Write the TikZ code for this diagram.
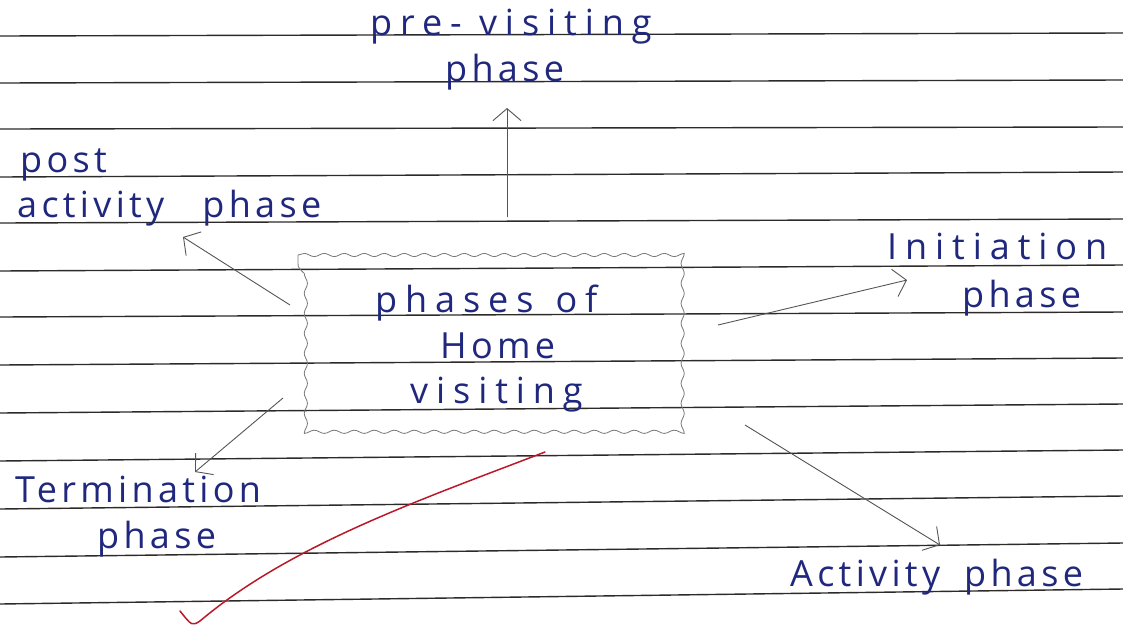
\documentclass[tikz,border=0pt]{standalone}
\usepackage{fontspec}
\usetikzlibrary{arrows.meta,decorations.pathmorphing}
\newfontfamily\handfont[LetterSpace=12]{Open Sans}
\newfontfamily\handwide[LetterSpace=22]{Open Sans}
\definecolor{ink}{RGB}{32,40,125}
\definecolor{rule}{RGB}{45,42,42}
\definecolor{pencil}{RGB}{85,85,85}
\definecolor{redink}{RGB}{185,25,40}
\tikzset{
  label/.style={anchor=base west, inner sep=0pt, text=ink,
    font=\handfont\fontsize{36}{40}\selectfont},
  widelabel/.style={label, font=\handwide\fontsize{36}{40}\selectfont},
  ruled/.style={draw=rule, line width=1.4pt},
  pencilarrow/.style={draw=pencil, line width=0.9pt,
    -{Straight Barb[length=12pt,width=28pt,line width=0.9pt]}},
  wavybox/.style={draw=pencil!80, line width=0.8pt,
    decorate, decoration={snake, amplitude=1.6pt, segment length=20pt}},
}
\begin{document}
\begin{tikzpicture}[x=1pt,y=-1pt]
  \useasboundingbox (0,0) rectangle (1123,627);
  \fill[white] (0,0) rectangle (1123,627);

  % ruled lines of the notebook page, rising slightly to the right
  \foreach \yl/\yr in {36/33,83/80,129/127,177/172,223/219,271/265,317/312,
                       365/358,413/404,461/450,509/496,557/543,604/589}
    \draw[ruled] (0,\yl) -- (1123,\yr);

  % central box (sides are whole multiples of the wave length)
  \draw[wavybox] (298,255) -- (678,255) -- (678,435) -- (298,435) -- cycle;
  \node[widelabel] (centre1) at (375,312) {phases\hspace{22pt}of};
  \node[label] (centre2) at (440,358) {Home};
  \node[widelabel] (centre3) at (410,403) {visiting};

  % phase labels
  \node[widelabel] (pre1) at (370,35) {pre- visiting};
  \node[label] (pre2) at (445,81) {phase};
  \node[label] (post1) at (20,172) {post};
  \node[label] (post2) at (17,217) {activity\hspace{38pt}phase};
  \node[widelabel] (init1) at (887,259) {Initiation};
  \node[label] (init2) at (962,307) {phase};
  \node[label] (term1) at (15,502) {Termination};
  \node[label] (term2) at (97,548) {phase};
  \node[label] (act) at (790,586) {Activity\hspace{24pt}phase};

  % arrow end points
  \coordinate (preS) at (507,217);   \coordinate (preE) at (507,108);
  \coordinate (postS) at (290,305);  \coordinate (postE) at (183,237);
  \coordinate (initS) at (718,325);  \coordinate (initE) at (907,280);
  \coordinate (termS) at (283,398);  \coordinate (termE) at (195,472);
  \coordinate (actS) at (745,425);   \coordinate (actE) at (940,545);

  \draw[pencilarrow] (preS) -- (preE);
  \draw[pencilarrow] (postS) -- (postE);
  \draw[pencilarrow] (initS) -- (initE);
  \draw[pencilarrow] (termS) -- (termE);
  \draw[pencilarrow] (actS) -- (actE);

  % red tick stroke under the box
  \coordinate (tickS) at (545,452);
  \coordinate (tickE) at (200,621);
  \coordinate (tickH) at (180,611);
  \draw[draw=redink, line width=1.5pt, line cap=round, line join=round]
    (tickS) .. controls (420,500) and (290,545) .. (tickE)
    .. controls (192,626) .. (tickH);
\end{tikzpicture}
\end{document}
